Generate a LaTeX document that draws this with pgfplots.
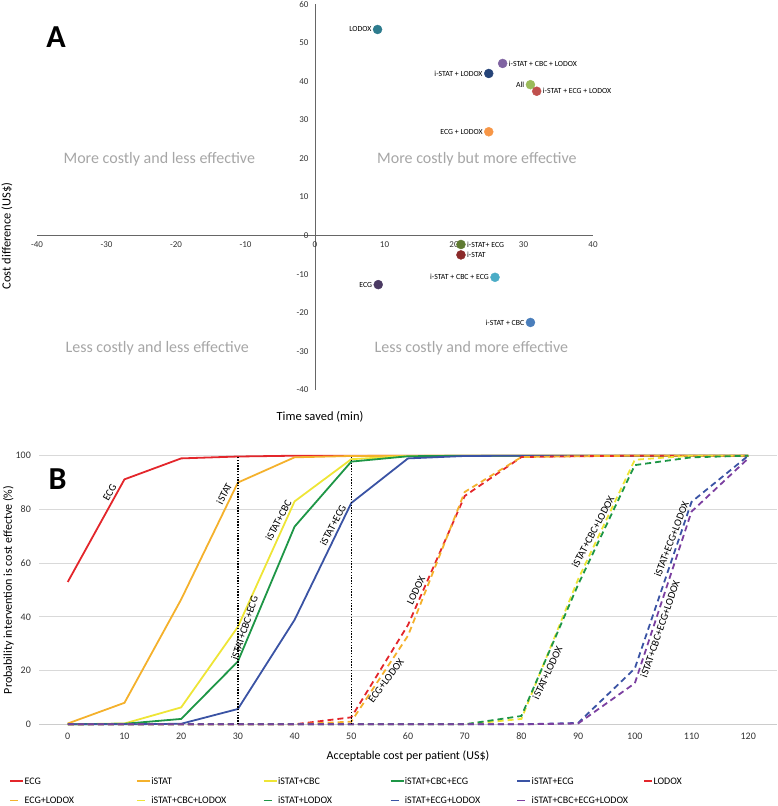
\documentclass[border=0pt]{standalone}
\usepackage{pgfplots}
\usepackage{pgfplotstable}
\pgfplotsset{compat=1.18}
\usepackage{fontspec}
\setmainfont{Carlito}

\definecolor{cLODOX}{HTML}{2E7C8E}
\definecolor{cICL}{HTML}{8064A2}
\definecolor{cIL}{HTML}{264478}
\definecolor{cAll}{HTML}{9BBB59}
\definecolor{cIEL}{HTML}{C0504D}
\definecolor{cEL}{HTML}{F79646}
\definecolor{cIE}{HTML}{5F7A32}
\definecolor{cI}{HTML}{8B2A2A}
\definecolor{cICE}{HTML}{4BACC6}
\definecolor{cE}{HTML}{4B3A63}
\definecolor{cIC}{HTML}{4A7EBB}

\definecolor{lred}{HTML}{E3262B}
\definecolor{lorange}{HTML}{F4B12C}
\definecolor{lyellow}{HTML}{EEE536}
\definecolor{lgreen}{HTML}{1E9646}
\definecolor{lblue}{HTML}{3A53A4}
\definecolor{lpurple}{HTML}{7B3FA0}

\pgfplotstableread{
x ECG iSTAT iCBC iCBCECG iECG LODOX ECGL iCBCL iL iECGL iCBCECGL
0 53 0.3 0 0 0 0 0 0 0 0 0
10 91.2 8 0.3 0.2 0 0 0 0 0 0 0
20 99 46.5 6.3 2 0.2 0 0 0 0 0 0
30 99.7 90 36.3 23.4 5.7 0 0 0 0 0 0
40 100 99.4 83 73.6 38.9 0 0 0 0 0 0
50 100 99.9 98.7 97.8 82.4 2.6 1.0 0 0 0 0
60 100 100 99.9 99.8 99 37 33 0 0 0 0
70 100 100 100 100 99.9 85 86.5 0 0 0 0
80 100 100 100 100 100 99.5 99.5 2 3.1 0 0
90 100 100 100 100 100 99.8 99.8 54 52 0.5 0.3
100 100 100 100 100 100 100 100 98.5 96.5 20.8 15.3
110 100 100 100 100 100 100 100 100 99.4 82.8 79.2
120 100 100 100 100 100 100 100 100 100 100 99
}\datatable

\newcommand{\lgd}[1]{\makebox[111bp][l]{\rule{0pt}{8bp}#1}}

\pgfplotsset{
  solidser/.style={line width=1.8bp, solid,
    legend image code/.code={\draw[##1] (0bp,0bp) -- (13bp,0bp);}},
  dashser/.style={line width=1.8bp, dash pattern=on 6bp off 4bp,
    legend image code/.code={\draw[##1,solid] (0bp,0bp) -- (8bp,0bp);}},
}
\tikzset{
  ptl/.style={font=\fontsize{7.8bp}{9bp}\selectfont, inner sep=0.5bp, text=black},
  quad/.style={font=\fontsize{16bp}{18bp}\selectfont, text=black!35},
  rot/.style={font=\fontsize{10.5bp}{12bp}\selectfont, inner sep=3bp, text=black},
}

\begin{document}
\begin{tikzpicture}
\useasboundingbox (0,0) rectangle (778bp,-806bp);

% ---------------- Panel A ----------------
\begin{axis}[
  at={(37bp,-390bp)}, anchor=south west, scale only axis,
  width=556bp, height=386bp,
  xmin=-40, xmax=40, ymin=-40, ymax=60,
  axis lines=middle, axis line style={-, draw=black!60, line width=0.8bp},
  xtick={-40,-30,...,40}, ytick={-40,-30,...,60},
  major tick length=0pt,
  hide obscured x ticks=false, hide obscured y ticks=false,
  tick label style={font=\fontsize{9bp}{10bp}\selectfont, text=black!80},
  xticklabel style={yshift=-3bp}, yticklabel style={xshift=-3bp},
  /pgf/number format/assume math mode=true,
  clip=false,
]
\node[quad] at (axis cs:-22.4,19.7) {More costly and less effective};
\node[quad] at (axis cs:23.3,19.7) {More costly but more effective};
\node[quad] at (axis cs:-22.7,-29.2) {Less costly and less effective};
\node[quad] at (axis cs:22.5,-29.2) {Less costly and more effective};

\addplot[only marks, mark=*, mark size=4.5bp, color=cLODOX] coordinates {(9,53.4)} node[ptl, left=5.5bp] {LODOX};
\addplot[only marks, mark=*, mark size=4.5bp, color=cICL] coordinates {(27,44.6)} node[ptl, right=5.5bp] {i-STAT + CBC + LODOX};
\addplot[only marks, mark=*, mark size=4.5bp, color=cIL] coordinates {(25,42.0)} node[ptl, left=5.5bp] {i-STAT + LODOX};
\addplot[only marks, mark=*, mark size=4.5bp, color=cAll] coordinates {(31,39.1)} node[ptl, left=5.5bp] {All};
\addplot[only marks, mark=*, mark size=4.5bp, color=cIEL] coordinates {(31.9,37.4)} node[ptl, right=5.5bp] {i-STAT + ECG + LODOX};
\addplot[only marks, mark=*, mark size=4.5bp, color=cEL] coordinates {(25,26.9)} node[ptl, left=5.5bp] {ECG + LODOX};
\addplot[only marks, mark=*, mark size=4.5bp, color=cIE] coordinates {(21,-2.3)} node[ptl, right=5.5bp] {i-STAT+ ECG};
\addplot[only marks, mark=*, mark size=4.5bp, color=cI] coordinates {(21,-5.0)} node[ptl, right=5.5bp] {i-STAT};
\addplot[only marks, mark=*, mark size=4.5bp, color=cICE] coordinates {(25.9,-10.8)} node[ptl, left=5.5bp] {i-STAT + CBC + ECG};
\addplot[only marks, mark=*, mark size=4.5bp, color=cE] coordinates {(9.1,-12.7)} node[ptl, left=5.5bp] {ECG};
\addplot[only marks, mark=*, mark size=4.5bp, color=cIC] coordinates {(31,-22.5)} node[ptl, left=5.5bp] {i-STAT + CBC};
\end{axis}

\node[font=\fontsize{32bp}{34bp}\selectfont\bfseries] at (56bp,-37.5bp) {A};
\node[rotate=90, font=\fontsize{12.5bp}{14bp}\selectfont] at (7bp,-236bp) {Cost difference (US\$)};
\node[font=\fontsize{12.5bp}{14bp}\selectfont] at (320bp,-417bp) {Time saved (min)};

% ---------------- Panel B ----------------
\begin{axis}[
  at={(39.4bp,-724.3bp)}, anchor=south west, scale only axis,
  width=737.2bp, height=268.6bp,
  xmin=-5, xmax=125, ymin=0, ymax=100,
  xtick={0,10,...,120}, ytick={0,20,...,100},
  axis lines*=left, axis line style={-},
  x axis line style={draw=black!20, line width=0.8bp},
  y axis line style={draw=none},
  ymajorgrids, major grid style={draw=black!15, line width=0.8bp},
  major tick length=0pt,
  tick label style={font=\fontsize{10bp}{11bp}\selectfont, text=black!80},
  xticklabel style={yshift=-5bp}, yticklabel style={xshift=-5bp},
  /pgf/number format/assume math mode=true,
  legend columns=6,
  legend cell align=left,
  legend style={at={(-0.0412,-0.1905)}, anchor=north west, draw=none,
    inner sep=0pt, row sep=9bp,
    nodes={inner sep=0.5bp, font=\fontsize{10bp}{11bp}\selectfont}},
  clip=false,
]
\addplot[solidser, color=lred] table[x=x, y=ECG] {\datatable};
\addlegendentry{\lgd{ECG}}
\addplot[solidser, color=lorange] table[x=x, y=iSTAT] {\datatable};
\addlegendentry{\lgd{iSTAT}}
\addplot[solidser, color=lyellow] table[x=x, y=iCBC] {\datatable};
\addlegendentry{\lgd{iSTAT+CBC}}
\addplot[solidser, color=lgreen] table[x=x, y=iCBCECG] {\datatable};
\addlegendentry{\lgd{iSTAT+CBC+ECG}}
\addplot[solidser, color=lblue] table[x=x, y=iECG] {\datatable};
\addlegendentry{\lgd{iSTAT+ECG}}
\addplot[dashser, color=lred] table[x=x, y=LODOX] {\datatable};
\addlegendentry{\lgd{LODOX}}
\addplot[dashser, color=lorange] table[x=x, y=ECGL] {\datatable};
\addlegendentry{\lgd{ECG+LODOX}}
\addplot[dashser, color=lyellow] table[x=x, y=iCBCL] {\datatable};
\addlegendentry{\lgd{iSTAT+CBC+LODOX}}
\addplot[dashser, color=lgreen] table[x=x, y=iL] {\datatable};
\addlegendentry{\lgd{iSTAT+LODOX}}
\addplot[dashser, color=lblue] table[x=x, y=iECGL] {\datatable};
\addlegendentry{\lgd{iSTAT+ECG+LODOX}}
\addplot[dashser, color=lpurple] table[x=x, y=iCBCECGL] {\datatable};
\addlegendentry{\lgd{iSTAT+CBC+ECG+LODOX}}

\addplot[forget plot, black, line width=1.4bp, dash pattern=on 1.4bp off 1.4bp] coordinates {(30,0) (30,100)};
\addplot[forget plot, black, line width=1.4bp, dash pattern=on 1.4bp off 1.4bp] coordinates {(50,0) (50,100)};

\node[rot, rotate=60, anchor=south] at (axis cs:8.4,85) {ECG};
\node[rot, rotate=63, anchor=south] at (axis cs:28.67,84.7) {iSTAT};
\node[rot, rotate=62, anchor=south] at (axis cs:38.24,74.8) {iSTAT+CBC};
\node[rot, rotate=72, anchor=south] at (axis cs:32.33,35.1) {iSTAT+CBC+ECG};
\node[rot, rotate=62, anchor=south] at (axis cs:47.84,73.0) {iSTAT+ECG};
\node[rot, rotate=64, anchor=south] at (axis cs:62.46,48.8) {LODOX};
\node[rot, rotate=53, anchor=north] at (axis cs:55.2,17.7) {ECG+LODOX};
\node[rot, rotate=62, anchor=south] at (axis cs:93.7,70.5) {iSTAT+CBC+LODOX};
\node[rot, rotate=65, anchor=north] at (axis cs:83.5,20.2) {iSTAT+LODOX};
\node[rot, rotate=69, anchor=south] at (axis cs:107.6,68.0) {iSTAT+ECG+LODOX};
\node[rot, rotate=71, anchor=north] at (axis cs:103.3,36.3) {iSTAT+CBC+ECG+LODOX};
\end{axis}

\node[font=\fontsize{32bp}{34bp}\selectfont\bfseries] at (57.5bp,-479.5bp) {B};
\node[rotate=90, font=\fontsize{12bp}{14bp}\selectfont] at (8.5bp,-590bp) {Probability intervention is cost effectve (\%)};
\node[font=\fontsize{12bp}{14bp}\selectfont] at (408bp,-756bp) {Acceptable cost per patient (US\$)};
\end{tikzpicture}
\end{document}
